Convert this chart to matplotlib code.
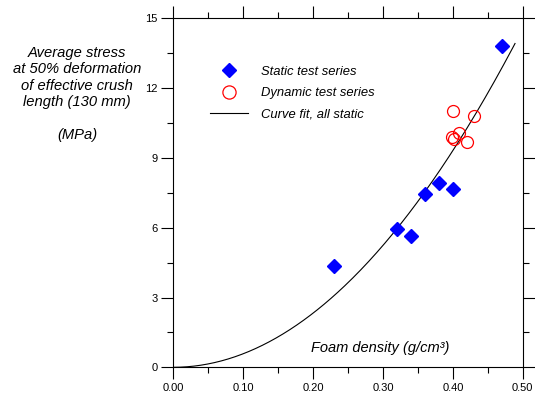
import matplotlib
matplotlib.use('Agg')
import matplotlib.pyplot as plt
import numpy as np
from matplotlib.ticker import MultipleLocator, FixedLocator, FormatStrFormatter
from matplotlib.lines import Line2D

# ---- data ----
static_density = [0.23, 0.32, 0.34, 0.36, 0.38, 0.40, 0.47]
static_stress = [4.35, 5.96, 5.64, 7.46, 7.93, 7.68, 13.82]

dynamic_density = [0.400, 0.430, 0.409, 0.399, 0.401, 0.420]
dynamic_stress = [11.01, 10.80, 10.08, 9.91, 9.82, 9.70]

# curve fit (all static): stress = coef * density ** power
fit_coef = 58.2
fit_power = 2.0
fit_x_max = 0.489

x_ticks = [0.00, 0.10, 0.20, 0.30, 0.40, 0.50]
y_ticks = [0, 3, 6, 9, 12, 15]

legend_labels = ["Static test series", "Dynamic test series", "Curve fit, all static"]
y_label_text = "Average stress\nat 50% deformation\nof effective crush\nlength (130 mm)\n\n(MPa)"
x_label_text = "Foam density (g/cm³)"

plt.rcParams['font.family'] = ['Liberation Sans', 'DejaVu Sans']

fig = plt.figure(figsize=(5.35, 3.98), dpi=100)
ax = fig.add_axes([173.3 / 535, 1 - 367.3 / 398, (522.7 - 173.3) / 535, (367.3 - 18.3) / 398])

fx = np.linspace(0, fit_x_max, 300)
fy = fit_coef * fx ** fit_power
ax.plot(fx, fy, color='black', lw=0.8, zorder=2)

ax.plot(static_density, static_stress, linestyle='none', marker='D', ms=6.8,
        color='#0000ff', mec='#0000ff', zorder=3)
ax.plot(dynamic_density, dynamic_stress, linestyle='none', marker='o', ms=8.6,
        mfc='none', mec='#ff0000', mew=0.9, zorder=4)

ax.set_xlim(0, 0.5)
ax.set_ylim(0, 15)
ax.xaxis.set_major_locator(FixedLocator(x_ticks))
ax.yaxis.set_major_locator(FixedLocator(y_ticks))
ax.xaxis.set_minor_locator(MultipleLocator(0.05))
ax.yaxis.set_minor_locator(MultipleLocator(1.5))
ax.xaxis.set_major_formatter(FormatStrFormatter('%.2f'))
ax.yaxis.set_major_formatter(FormatStrFormatter('%d'))

ax.tick_params(which='both', direction='out', top=True, right=True,
               labeltop=False, labelright=False, width=0.8, color='black')
ax.tick_params(which='major', length=8.5, labelsize=8, pad=3)
ax.tick_params(which='minor', length=4)
for s in ax.spines.values():
    s.set_linewidth(0.8)

handles = [
    Line2D([], [], linestyle='none', marker='D', ms=7.5, color='#0000ff'),
    Line2D([], [], linestyle='none', marker='o', ms=9.5, mfc='none', mec='#ff0000', mew=0.9),
    Line2D([], [], color='black', lw=0.8),
]
leg = ax.legend(handles, legend_labels, loc='upper left',
                bbox_to_anchor=((210 - 173.3) / 349.4, (367.3 - 65.5) / 349),
                frameon=False, handlelength=2.9, handletextpad=1.0,
                labelspacing=0.72, borderaxespad=0, borderpad=0,
                prop={'style': 'italic', 'size': 9.4})

fig.text(380 / 535, 1 - 348 / 398, x_label_text, fontsize=10.5, style='italic',
         ha='center', va='center')
fig.text(77 / 535, 1 - 94 / 398, y_label_text, fontsize=10.6, style='italic',
         ha='center', va='center', multialignment='center', linespacing=1.23)

fig.savefig('out.png', dpi=100)
